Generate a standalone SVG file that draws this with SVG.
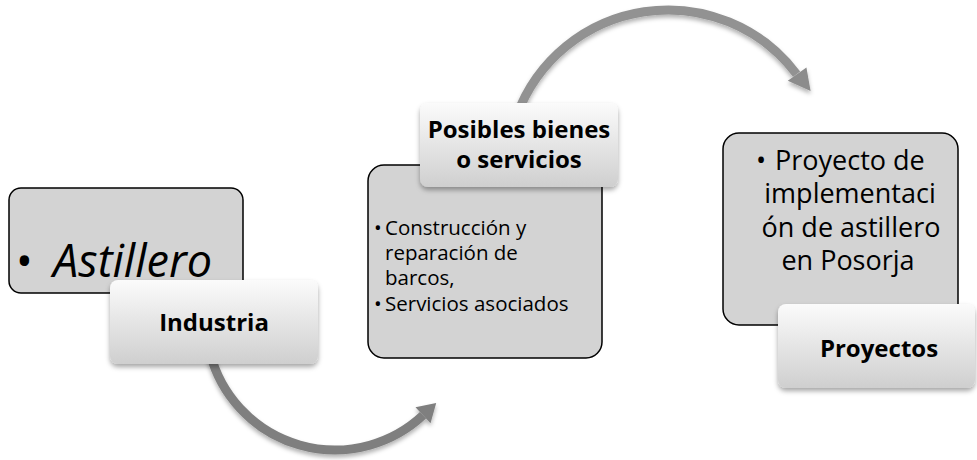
<svg xmlns="http://www.w3.org/2000/svg" width="977" height="460" viewBox="0 0 977 460">
<style>
.box{fill:#d3d3d3;stroke:#000;stroke-width:1.5}
.hdr{fill:url(#hg);filter:url(#sh)}
.ht{font-family:"Open Sans",sans-serif;font-weight:bold;font-size:24px;fill:#000;text-anchor:middle}
.bt{font-family:"Open Sans",sans-serif;font-size:20.5px;fill:#000}
.arr{fill:none;stroke-width:9}
</style>
<defs>
<linearGradient id="hg" x1="0" y1="0" x2="0" y2="1">
<stop offset="0" stop-color="#fbfbfb"/>
<stop offset="1" stop-color="#cfcfcf"/>
</linearGradient>
<filter id="sh" x="-10%" y="-10%" width="120%" height="130%">
<feDropShadow dx="0" dy="3" stdDeviation="2.5" flood-color="#000" flood-opacity="0.35"/>
</filter>
<filter id="ash" x="-10%" y="-10%" width="120%" height="130%">
<feDropShadow dx="0" dy="3" stdDeviation="2" flood-color="#000" flood-opacity="0.3"/>
</filter>
</defs>
<g id="connectors" filter="url(#ash)">
<g id="arrow1">
<path class="arr" stroke="#7f7f7f" d="M210.4,354.4 A129,129 0 0 0 423,415.3"/>
<polygon fill="#7f7f7f" points="430.5,423.3 436.2,403 415.5,407.3"/>
</g>
<g id="arrow2">
<path class="arr" stroke="#929292" d="M516.7,115.9 A161,161 0 0 1 796.6,74.1"/>
<polygon fill="#8c8c8c" points="806.4,67.5 810.6,91.1 787.8,80.7"/>
</g>
</g>
<g id="node-astillero">
<rect class="box" x="9" y="188" width="234" height="105" rx="12"/>
<text font-family="Open Sans, sans-serif" font-style="italic" font-size="45" fill="#000"><tspan x="15" y="277">•</tspan><tspan x="53" y="277">Astillero</tspan></text>
</g>
<g id="node-industria">
<rect class="hdr" x="110" y="280" width="208" height="84" rx="8"/>
<text class="ht" x="214" y="331">Industria</text>
</g>
<g id="node-bienes">
<rect class="box" x="368" y="165" width="234" height="193" rx="16"/>
<text class="bt"><tspan x="374" y="235">•</tspan><tspan x="385" y="235">Construcción y</tspan><tspan x="385" y="260">reparación de</tspan><tspan x="385" y="285">barcos,</tspan><tspan x="374" y="311">•</tspan><tspan x="385" y="311">Servicios asociados</tspan></text>
</g>
<g id="node-posibles">
<rect class="hdr" x="420" y="103" width="198" height="84" rx="8"/>
<text class="ht"><tspan x="519" y="138">Posibles bienes</tspan><tspan x="519" y="168">o servicios</tspan></text>
</g>
<g id="node-proyecto">
<rect class="box" x="723" y="133" width="235" height="192" rx="16"/>
<text font-family="Open Sans, sans-serif" font-size="27" fill="#000"><tspan x="756" y="170">•</tspan><tspan x="775" y="170">Proyecto de</tspan><tspan x="850" y="203" text-anchor="middle">implementaci</tspan><tspan x="851" y="237" text-anchor="middle">ón de astillero</tspan><tspan x="848" y="270" text-anchor="middle">en Posorja</tspan></text>
</g>
<g id="node-proyectos">
<rect class="hdr" x="778" y="304" width="197" height="84" rx="8"/>
<text class="ht" x="879" y="357">Proyectos</text>
</g>
</svg>
